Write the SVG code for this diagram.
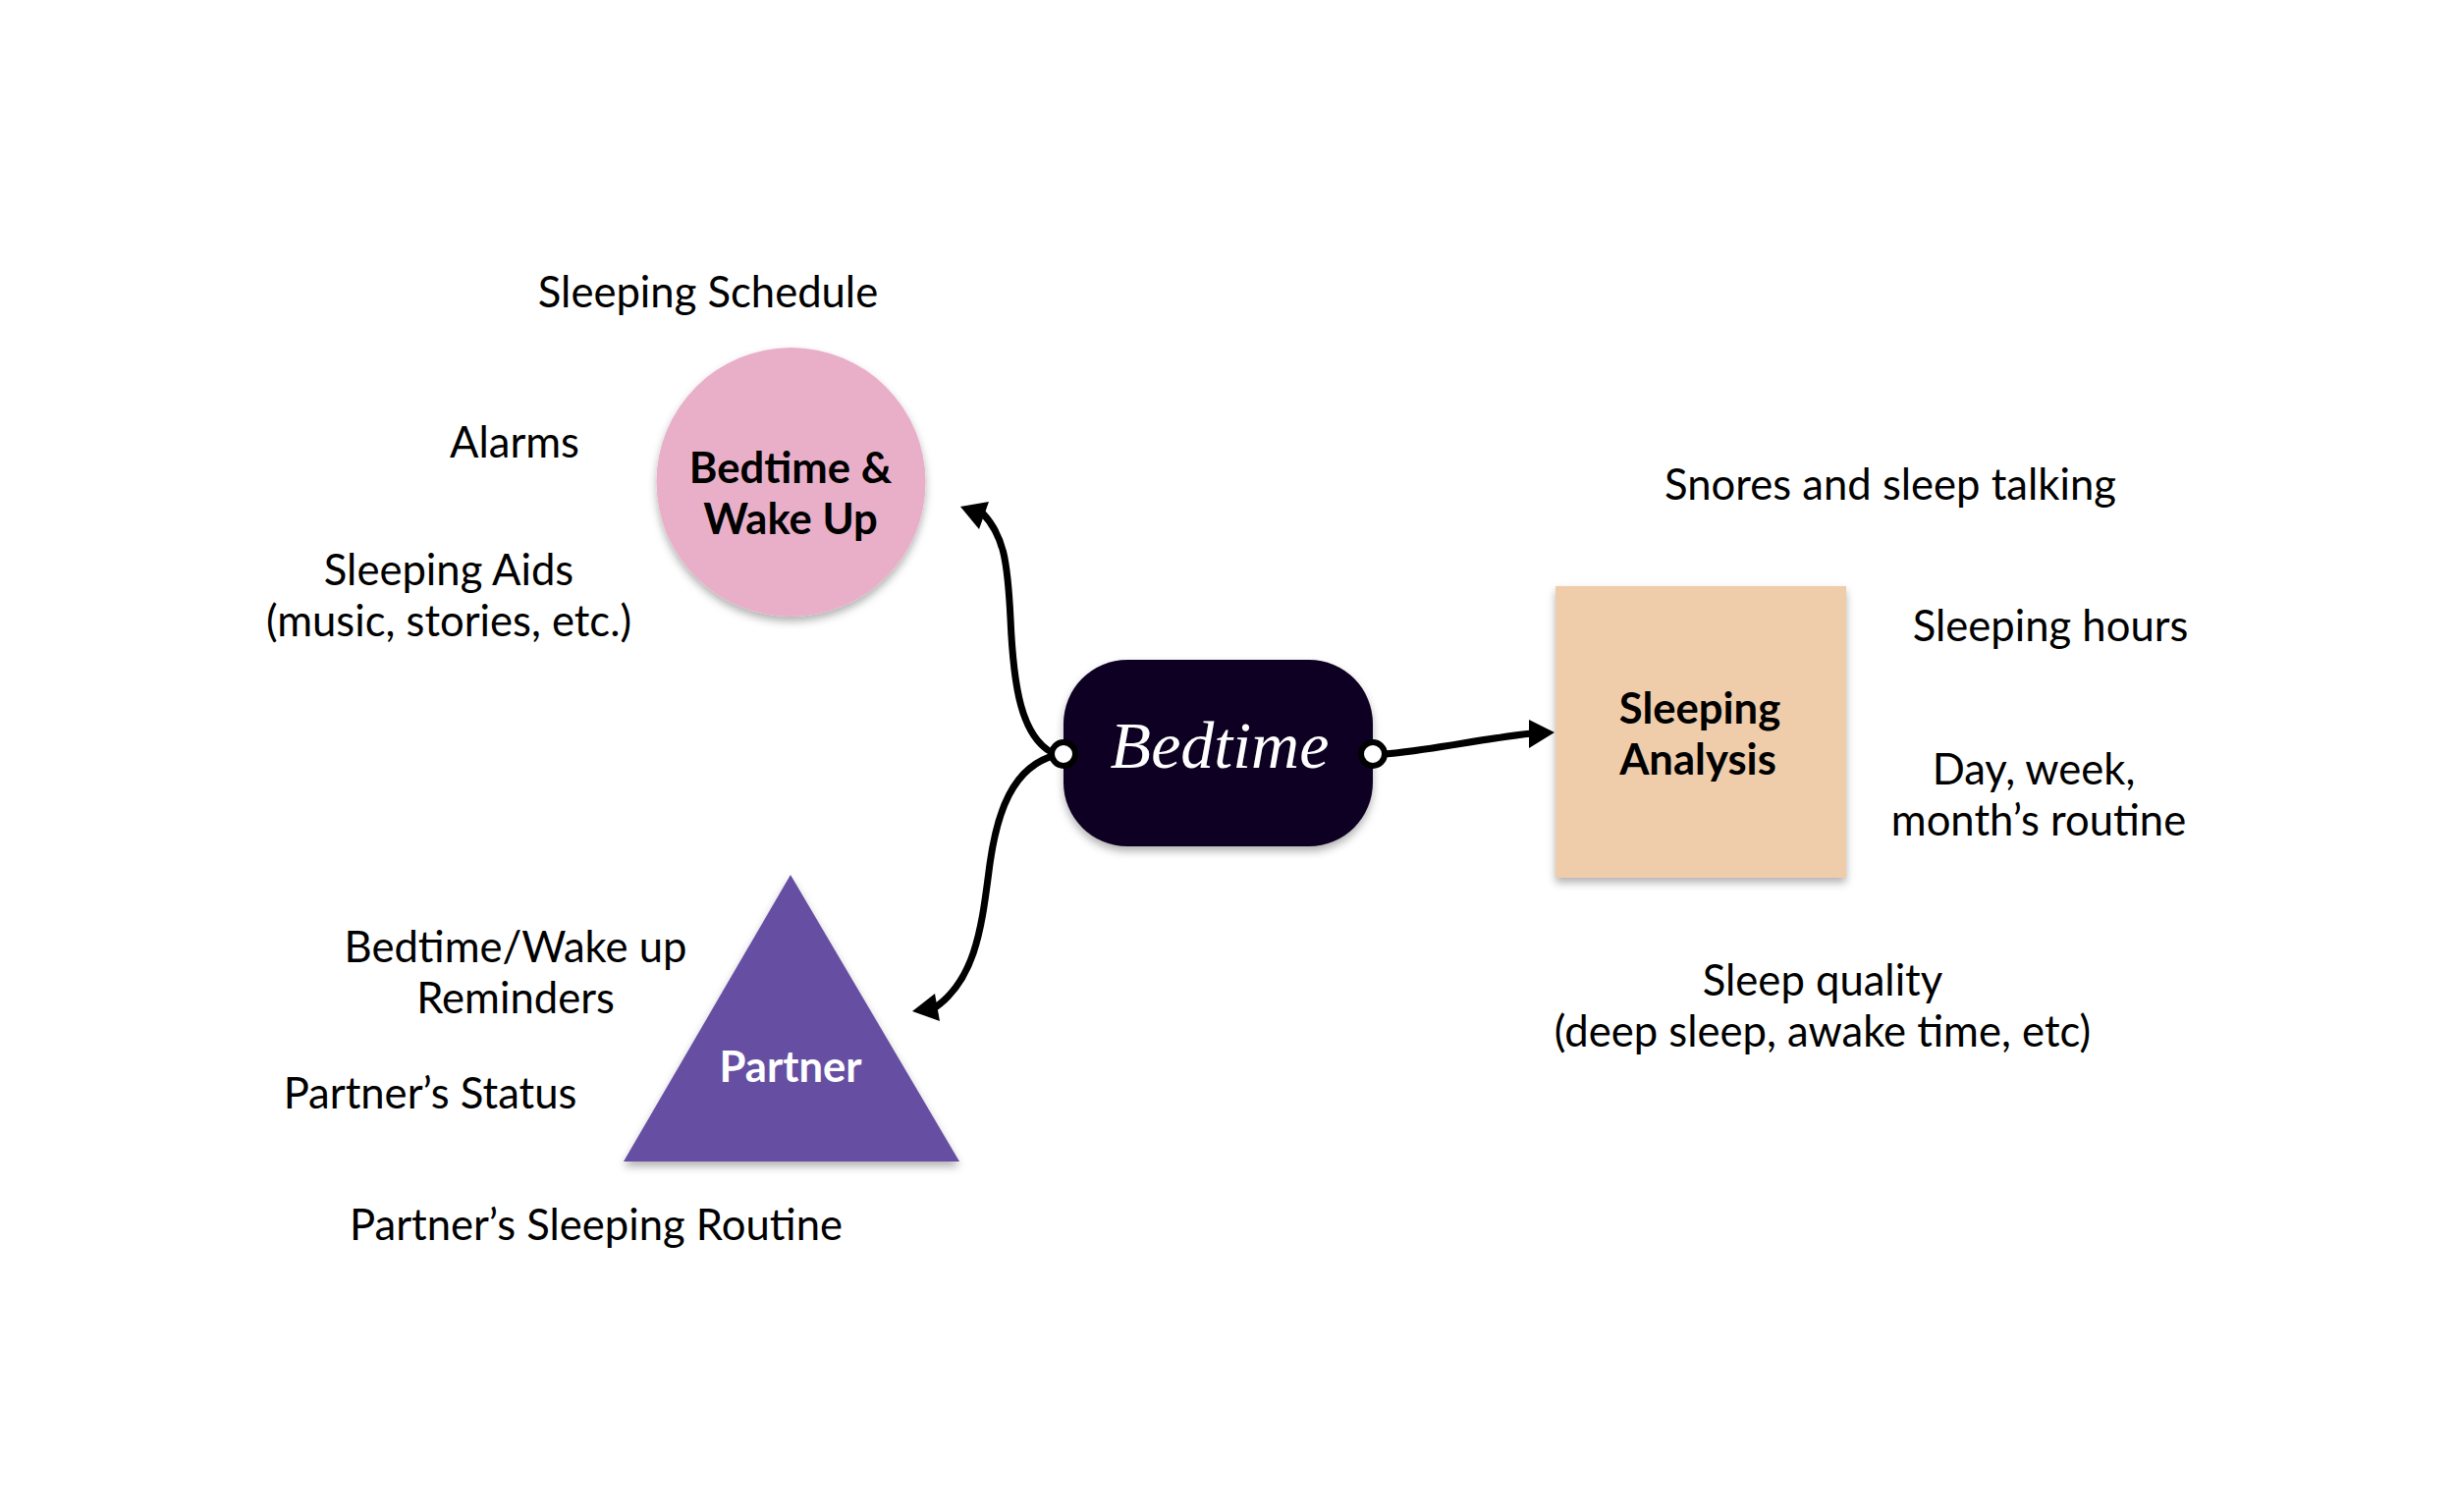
<svg xmlns="http://www.w3.org/2000/svg" width="2500" height="1540" viewBox="0 0 2500 1540">
<style>
text{font-family:Lato,"Open Sans",sans-serif;text-anchor:middle;font-size:43.6px;fill:#000}
.b{font-weight:700}
.script{font-family:"Liberation Serif",serif;font-style:italic;font-size:68px;fill:#fff}
.conn{fill:none;stroke:#000;stroke-width:7;stroke-linecap:round}
.head{fill:#000}
.port{fill:#fff;stroke:#000;stroke-width:6}
</style>
<defs><filter id="s" x="-10%" y="-10%" width="120%" height="120%"><feDropShadow dx="0" dy="5" stdDeviation="4" flood-color="#000" flood-opacity="0.3"/></filter></defs>
<rect width="2500" height="1540" fill="#fff"/>
<g id="node-bedtime-wake"><circle cx="805.500" cy="491" r="137" fill="#e9afc8" filter="url(#s)"/><text class="b" x="805" y="492">Bedtime &amp;</text><text class="b" x="805" y="544">Wake Up</text></g>
<g id="node-partner"><polygon points="805,891 977,1183 635,1183" fill="#664fa2" filter="url(#s)"/><text class="b" x="805" y="1102" style="fill:#fff">Partner</text></g>
<g id="node-analysis"><rect x="1584" y="597" width="296" height="297" fill="#efcdab" filter="url(#s)"/><text class="b" x="1731" y="737">Sleeping</text><text class="b" x="1729" y="789">Analysis</text></g>
<g id="node-bedtime"><rect x="1083" y="672" width="315" height="190" rx="65" ry="65" fill="#100222" filter="url(#s)"/><text class="script" x="1242" y="782">Bedtime</text></g>
<g id="connectors">
<path class="conn" d="M1072 767C1040 750 1032 700 1029 630C1026 570 1022 545 1000 522"/>
<polygon class="head" points="978,516 1007,511 997,539"/>
<path class="conn" d="M1076 769C1030 780 1015 830 1008 880C1000 940 995 1000 948 1029"/>
<polygon class="head" points="929,1030 952,1012 957,1040"/>
<path class="conn" d="M1410 768C1460 764 1510 752 1560 747"/>
<polygon class="head" points="1583,746 1557,733 1557,762"/>
<circle class="port" cx="1083" cy="768" r="12"/><circle class="port" cx="1398" cy="768" r="12"/>
</g>
<g id="labels">
<text x="721" y="313">Sleeping Schedule</text>
<text x="524" y="466">Alarms</text>
<text x="457" y="596">Sleeping Aids</text>
<text x="457" y="648">(music, stories, etc.)</text>
<text x="1925" y="509">Snores and sleep talking</text>
<text x="2088" y="653">Sleeping hours</text>
<text x="2071" y="799">Day, week,</text>
<text x="2076" y="851">month’s routine</text>
<text x="1856" y="1014">Sleep quality</text>
<text x="1856" y="1066">(deep sleep, awake time, etc)</text>
<text x="525" y="980">Bedtime/Wake up</text>
<text x="525" y="1032">Reminders</text>
<text x="438" y="1129">Partner’s Status</text>
<text x="607" y="1263">Partner’s Sleeping Routine</text>
</g>
</svg>
